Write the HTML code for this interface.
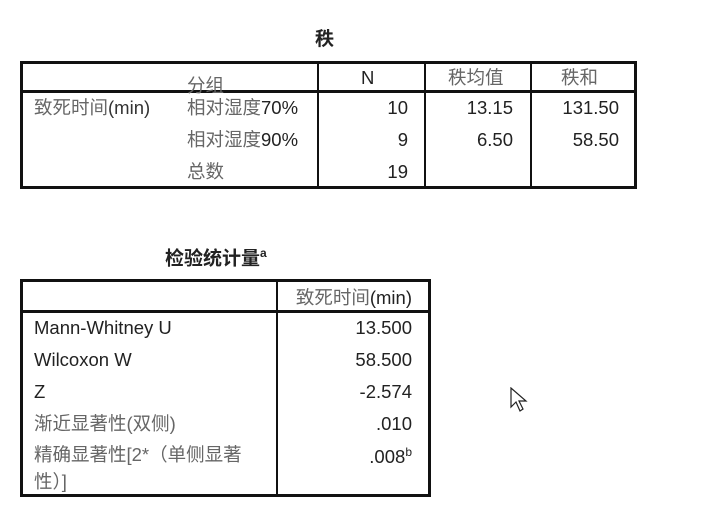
<!DOCTYPE html>
<html><head><meta charset="utf-8"><style>
body{margin:0;width:722px;height:508px;background:#fff;position:relative;overflow:hidden;font-family:"Liberation Sans","Noto Sans CJK SC",sans-serif;font-size:18.5px;color:#222}
.a{position:absolute;white-space:nowrap;line-height:1}
.l{position:absolute;background:#111}
.g{color:#666}
.r{text-align:right}
</style></head><body>
<div class="a" style="left:315px;top:30px;font-weight:bold;font-size:19px">秩</div>
<div>
<div class="l" style="left:20px;top:61px;width:617px;height:3px"></div>
<div class="l" style="left:20px;top:90px;width:617px;height:3px"></div>
<div class="l" style="left:20px;top:186px;width:617px;height:3px"></div>
<div class="l" style="left:20px;top:61px;width:3px;height:128px"></div>
<div class="l" style="left:634px;top:61px;width:3px;height:128px"></div>
<div class="l" style="left:317px;top:61px;width:2px;height:128px"></div>
<div class="l" style="left:424px;top:61px;width:2px;height:128px"></div>
<div class="l" style="left:530px;top:61px;width:2px;height:128px"></div>
<div class="a g" style="left:187px;top:77px">分组</div>
<div class="a" style="left:361px;top:69px">N</div>
<div class="a g" style="left:448px;top:69px">秩均值</div>
<div class="a g" style="left:561px;top:69px">秩和</div>
<div class="a g" style="left:34px;top:99px">致死时间<span style="color:#333">(min)</span></div>
<div class="a g" style="left:187px;top:99px">相对湿度<span style="color:#222">70%</span></div>
<div class="a g" style="left:187px;top:131px">相对湿度<span style="color:#222">90%</span></div>
<div class="a g" style="left:187px;top:163px">总数</div>
<div class="a r" style="left:340px;width:68px;top:99px">10</div>
<div class="a r" style="left:340px;width:68px;top:131px">9</div>
<div class="a r" style="left:340px;width:68px;top:163px">19</div>
<div class="a r" style="left:440px;width:73px;top:99px">13.15</div>
<div class="a r" style="left:440px;width:73px;top:131px">6.50</div>
<div class="a r" style="left:540px;width:79px;top:99px">131.50</div>
<div class="a r" style="left:540px;width:79px;top:131px">58.50</div>
</div>
<div class="a" style="left:165px;top:247px;font-weight:bold;font-size:19px">检验统计量<sup style="font-size:12px">a</sup></div>
<div>
<div class="l" style="left:20px;top:279px;width:411px;height:3px"></div>
<div class="l" style="left:20px;top:310px;width:411px;height:3px"></div>
<div class="l" style="left:20px;top:494px;width:411px;height:3px"></div>
<div class="l" style="left:20px;top:279px;width:3px;height:218px"></div>
<div class="l" style="left:428px;top:279px;width:3px;height:218px"></div>
<div class="l" style="left:276px;top:279px;width:2px;height:218px"></div>
<div class="a g r" style="left:280px;width:132px;top:289px">致死时间<span style="color:#222">(min)</span></div>
<div class="a" style="left:34px;top:319px">Mann-Whitney U</div>
<div class="a" style="left:34px;top:351px">Wilcoxon W</div>
<div class="a" style="left:34px;top:383px">Z</div>
<div class="a g" style="left:34px;top:415px">渐近显著性(双侧)</div>
<div class="a g" style="left:34px;top:446px">精确显著性[2*（单侧显著</div>
<div class="a g" style="left:34px;top:473px">性）]</div>
<div class="a r" style="left:300px;width:112px;top:319px">13.500</div>
<div class="a r" style="left:300px;width:112px;top:351px">58.500</div>
<div class="a r" style="left:300px;width:112px;top:383px">-2.574</div>
<div class="a r" style="left:300px;width:112px;top:415px">.010</div>
<div class="a r" style="left:300px;width:112px;top:446px">.008<sup style="font-size:12px">b</sup></div>
</div>
<svg style="position:absolute;left:510px;top:387px" width="22" height="30"><path d="M1 1 L1 20 L6 15 L10 24 L13 22 L9 14 L16 14 Z" fill="#fff" stroke="#222" stroke-width="1.2"/></svg>
</body></html>
